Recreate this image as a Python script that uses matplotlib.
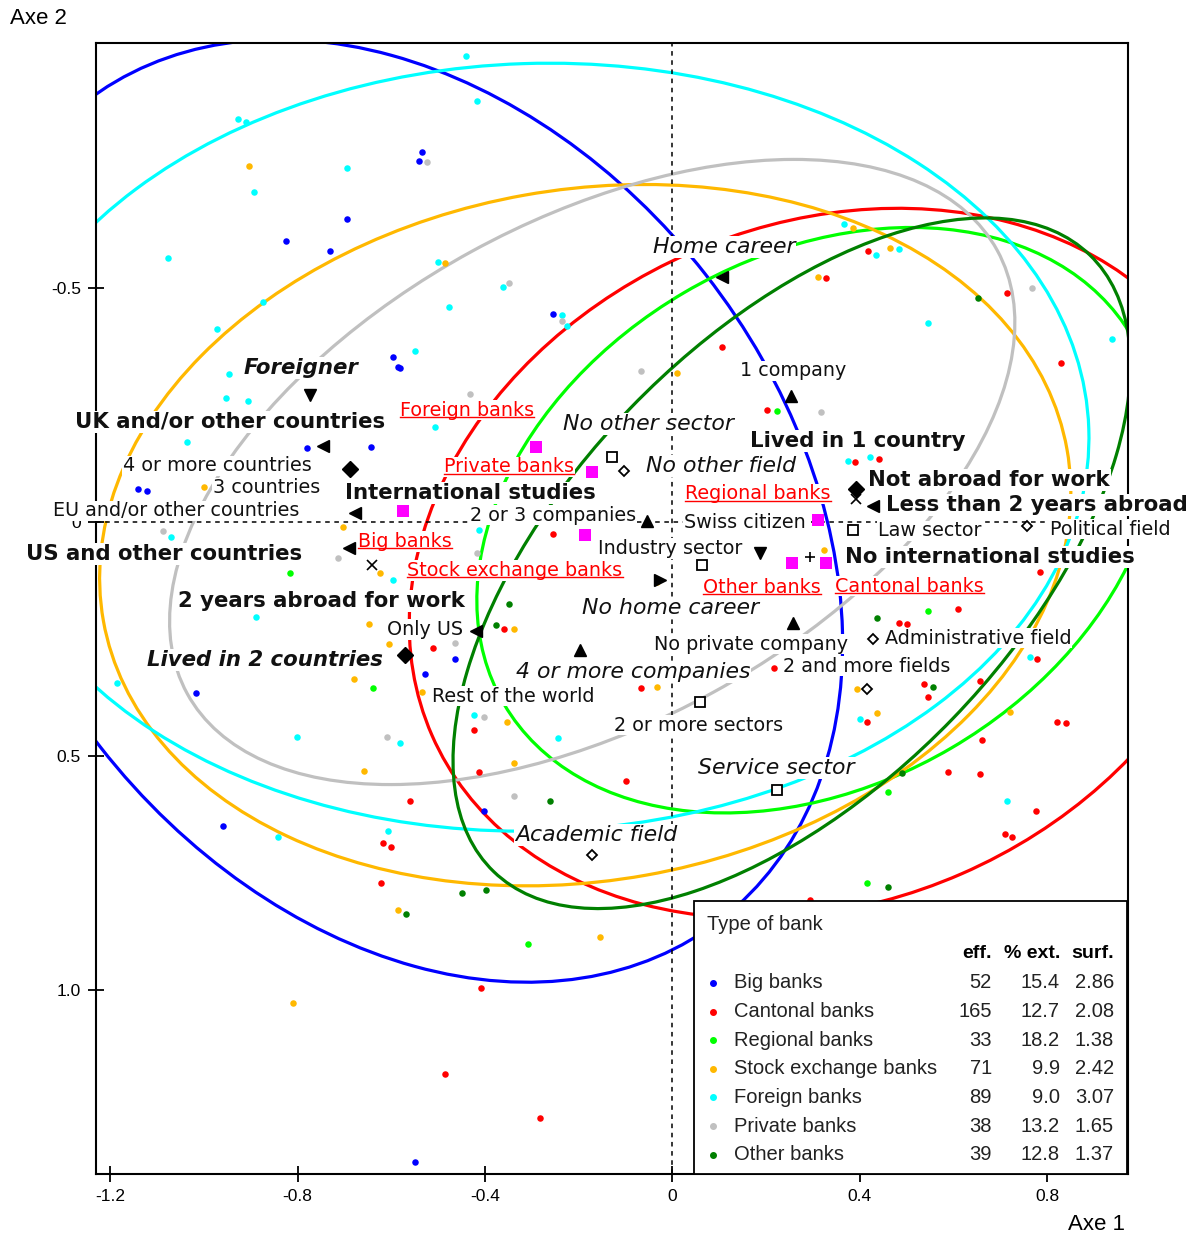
import numpy as np
import matplotlib
matplotlib.use("Agg")
import matplotlib.pyplot as plt
from matplotlib.patches import Ellipse, Rectangle
from matplotlib.lines import Line2D

# ---------------- data ----------------
banks = ["Big banks", "Cantonal banks", "Regional banks", "Stock exchange banks",
         "Foreign banks", "Private banks", "Other banks"]
bank_colors = ["#0000FF", "#FF0000", "#00FF00", "#FFB800", "#00FFFF", "#C0C0C0", "#008000"]
eff = [52, 165, 33, 71, 89, 38, 39]
pct_ext = ["15.4", "12.7", "18.2", "9.9", "9.0", "13.2", "12.8"]
surf = ["2.86", "2.08", "1.38", "2.42", "3.07", "1.65", "1.37"]

# category mean points (Axe 1, Axe 2)
mean_x = [-0.575, 0.328, 0.311, -0.186, -0.291, -0.171, 0.255]
mean_y = [-0.024, 0.088, -0.004, 0.028, -0.160, -0.107, 0.088]
# concentration ellipses
semi_major = [1.106, 0.918, 0.777, 1.045, 1.181, 0.986, 0.916]
semi_minor = [0.820, 0.724, 0.564, 0.738, 0.820, 0.537, 0.478]
angle_deg = [52.0, -23.6, -30.4, -10.1, -1.9, -28.7, -46.0]

# individuals (visible ones)
big_x = [-0.695, -0.825, -0.731, -0.534, -0.541, -0.596, -0.586, -0.780, -0.643, -1.141,
         -1.122, -0.255, -0.581, -1.017, -0.959, -0.464, -0.528, -0.402, -0.549]
big_y = [-0.647, -0.600, -0.579, -0.791, -0.771, -0.353, -0.331, -0.158, -0.160, -0.071,
         -0.066, -0.444, -0.329, 0.365, 0.650, 0.293, 0.325, 0.618, 1.368]
cant_x = [0.418, 0.328, 0.715, 0.106, 0.202, 0.830, 0.390, 0.441, 0.379, -0.255, -0.359,
          -0.511, -0.423, -0.412, -0.099, -0.560, -0.067, 0.217, -0.618, -0.601, -0.622,
          0.610, 0.484, 0.501, 0.779, 0.657, 0.537, 0.546, 0.416, 0.821, 0.841, 0.661,
          0.589, 0.657, 0.777, 0.710, 0.725, 0.294, -0.408, -0.485, -0.283, 0.785]
cant_y = [-0.579, -0.521, -0.489, -0.374, -0.239, -0.340, -0.128, -0.135, 0.011, 0.026, 0.229,
          0.269, 0.444, 0.534, 0.553, 0.596, 0.355, 0.312, 0.686, 0.694, 0.771,
          0.186, 0.216, 0.218, 0.293, 0.340, 0.346, 0.374, 0.427, 0.427, 0.429, 0.466,
          0.534, 0.538, 0.618, 0.667, 0.673, 0.808, 0.996, 1.179, 1.274, 0.107]
reg_x = [0.224, -0.816, -0.639, 0.546, 0.461, 0.416, -0.308]
reg_y = [-0.237, 0.109, 0.355, 0.190, 0.577, 0.771, 0.902]
stock_x = [-0.904, -0.485, 0.386, 0.465, 0.311, -1.000, -0.703, -0.624, 0.324, -0.648,
           -0.604, -0.680, -0.658, -0.338, -0.534, -0.353, -0.338, -0.033, 0.394, 0.437,
           0.721, -0.810, -0.586, -0.154, 0.009, -0.033]
stock_y = [-0.761, -0.553, -0.628, -0.585, -0.524, -0.075, 0.011, 0.109, 0.060, 0.218,
           0.261, 0.335, 0.532, 0.229, 0.363, 0.427, 0.515, 0.353, 0.357, 0.408,
           0.406, 1.028, 0.829, 0.887, -0.318, 0.128]
for_x = [-0.927, -0.910, -0.695, -0.893, -1.077, -0.441, -0.417, -0.500, -0.362, 0.367,
         0.435, 0.484, -0.874, -0.972, -0.947, -0.953, -0.906, -1.036, -1.070, -0.596,
         -0.477, -0.236, -0.225, -0.549, -0.507, -0.413, 0.546, 0.939, 0.375, 0.422,
         -0.889, -1.186, -0.801, -0.581, -0.842, -0.607, -0.423, -0.244, 0.764, 0.401, 0.715]
for_y = [-0.861, -0.855, -0.756, -0.705, -0.564, -0.996, -0.900, -0.556, -0.502, -0.637,
         -0.571, -0.583, -0.470, -0.412, -0.316, -0.265, -0.259, -0.171, 0.032, 0.124,
         -0.459, -0.442, -0.419, -0.365, -0.203, 0.017, -0.425, -0.391, -0.130, -0.139,
         0.203, 0.344, 0.459, 0.472, 0.673, 0.660, 0.412, 0.462, 0.288, 0.421, 0.596]
priv_x = [-0.524, -0.349, 0.768, -1.088, -0.714, -0.236, -0.067, -0.432, -0.417, 0.318,
          -0.609, -0.402, -0.338, -0.464]
priv_y = [-0.769, -0.511, -0.500, 0.019, 0.077, -0.429, -0.323, -0.274, 0.066, -0.235,
          0.459, 0.417, 0.585, 0.259]
oth_x = [0.653, -0.349, -0.376, -0.261, -0.449, -0.398, 0.437, 0.557, 0.490, 0.461, -0.569]
oth_y = [-0.479, 0.175, 0.220, 0.596, 0.793, 0.786, 0.205, 0.353, 0.536, 0.780, 0.838]

ind_x = [big_x, cant_x, reg_x, stock_x, for_x, priv_x, oth_x]
ind_y = [big_y, cant_y, reg_y, stock_y, for_y, priv_y, oth_y]

# modalities of supplementary variables (marker type, Axe 1, Axe 2)
mod_marker = ["v", "<", "D", "<", "<", "x", "D", "<", "^", "s", "D", "^", ">", "s", "v",
              "<", "^", "^", "+", "D", "x", "<", "s", "D", "D", "D", "s", "s", "D"]
mod_filled = [1, 1, 1, 1, 1, 0, 1, 1, 1, 0, 0, 1, 1, 0, 1,
              1, 1, 1, 0, 1, 0, 1, 0, 0, 0, 0, 0, 0, 0]
mod_x = [-0.774, -0.746, -0.688, -0.677, -0.690, -0.641, -0.571, -0.419, -0.197, -0.129,
         -0.103, -0.054, -0.026, 0.063, 0.187, 0.106, 0.253, 0.258, 0.294, 0.392, 0.392,
         0.428, 0.386, 0.757, 0.428, 0.415, 0.059, 0.223, -0.172]
mod_y = [-0.271, -0.162, -0.113, -0.019, 0.056, 0.092, 0.284, 0.233, 0.274, -0.139,
         -0.109, -0.002, 0.124, 0.092, 0.066, -0.524, -0.269, 0.216, 0.075, -0.071, -0.049,
         -0.034, 0.017, 0.009, 0.250, 0.357, 0.385, 0.573, 0.712]

# labels: text, style (n normal, b bold, i italic, bi bold italic)
lab_text = ["Foreigner", "UK and/or other countries", "4 or more countries", "3 countries",
            "EU and/or other countries", "US and other countries", "International studies",
            "2 years abroad for work", "Only US", "Lived in 2 countries", "Rest of the world",
            "4 or more companies", "No home career", "No private company", "2 and more fields",
            "Administrative field", "2 or more sectors", "Service sector", "Academic field",
            "Home career", "1 company", "No other sector", "No other field", "Lived in 1 country",
            "Not abroad for work", "Less than 2 years abroad", "2 or 3 companies", "Swiss citizen",
            "Law sector", "Political field", "Industry sector", "No international studies"]
lab_style = ["bi", "b", "n", "n", "n", "b", "b", "b", "n", "bi", "n", "i", "i", "n", "n",
             "n", "n", "i", "i", "i", "n", "i", "i", "b", "b", "b", "n", "n", "n", "n", "n", "b"]
lab_x = [-0.793, -0.945, -0.972, -0.866, -1.060, -1.085, -0.432, -0.750, -0.528, -0.870,
         -0.340, -0.084, -0.003, 0.168, 0.416, 0.653, 0.055, 0.221, -0.163, 0.110, 0.258,
         -0.050, 0.104, 0.397, 0.676, 0.779, -0.255, 0.155, 0.550, 0.935, -0.005, 0.678]
lab_y = [-0.329, -0.214, -0.120, -0.073, -0.024, 0.068, -0.062, 0.169, 0.229, 0.295,
         0.372, 0.321, 0.184, 0.261, 0.308, 0.248, 0.434, 0.526, 0.669, -0.588, -0.323,
         -0.209, -0.120, -0.173, -0.090, -0.036, -0.015, 0.000, 0.019, 0.015, 0.056, 0.075]
# bank label positions
bank_lab_x = [-0.571, 0.507, 0.183, -0.336, -0.438, -0.349, 0.191]
bank_lab_y = [0.041, 0.137, -0.060, 0.103, -0.239, -0.118, 0.139]

# ---------------- figure ----------------
W, H = 1199, 1236
fig = plt.figure(figsize=(W / 100, H / 100), dpi=100)
ax = fig.add_axes([95.5 / W, 1 - 1174 / H, (1127.5 - 95.5) / W, (1174 - 43.3) / H])
ax.set_xlim(-1.2317, 0.972)
ax.set_ylim(1.393, -1.023)

tick_font = "Liberation Sans"
ax.set_xticks([-1.2, -0.8, -0.4, 0, 0.4, 0.8])
ax.set_xticklabels(["-1.2", "-0.8", "-0.4", "0", "0.4", "0.8"], family=tick_font)
ax.set_yticks([-0.5, 0, 0.5, 1.0])
ax.set_yticklabels(["-0.5", "0", "0.5", "1.0"], family=tick_font)
ax.tick_params(direction="inout", length=11, width=1.3, labelsize=12.5, pad=5, colors="black")
for sp in ax.spines.values():
    sp.set_linewidth(1.5)

ax.axvline(0, color="black", lw=1.1, ls=(0, (3, 3)), zorder=2.4)
ax.axhline(0, color="black", lw=1.1, ls=(0, (3, 3)), zorder=2.4)

for i in range(len(banks)):
    e = Ellipse((mean_x[i], mean_y[i]), 2 * semi_major[i], 2 * semi_minor[i],
                angle=angle_deg[i], fill=False, edgecolor=bank_colors[i], lw=2.3, zorder=2)
    ax.add_patch(e)

for i in range(len(banks)):
    ax.scatter(ind_x[i], ind_y[i], s=22, color=bank_colors[i], linewidths=0, zorder=3)

ax.scatter(mean_x, mean_y, s=70, marker="s", color="#FF00FF", linewidths=0, zorder=4)

for m, f, x, y in zip(mod_marker, mod_filled, mod_x, mod_y):
    if m in ("x", "+"):
        ax.plot(x, y, marker=m, color="black", ms=7, mew=1.2, ls="none", zorder=5)
    elif f:
        ax.plot(x, y, marker=m, color="black", ms=8, ls="none", zorder=5)
    else:
        ms = 5.2 if m == "D" else 6.5
        ax.plot(x, y, marker=m, mfc="white", mec="black", ms=ms, mew=1.3, ls="none", zorder=5)

style_kw = {
    "n": dict(fontsize=13.8, fontweight="normal", fontstyle="normal"),
    "b": dict(fontsize=15.3, fontweight="bold", fontstyle="normal"),
    "i": dict(fontsize=15.8, fontweight="normal", fontstyle="italic"),
    "bi": dict(fontsize=15.3, fontweight="bold", fontstyle="italic"),
}
box = dict(facecolor="white", edgecolor="none", pad=0.6)
for t, s, x, y in zip(lab_text, lab_style, lab_x, lab_y):
    ax.text(x, y, t, ha="center", va="center", family="DejaVu Sans", color="#111111",
            bbox=box, zorder=6, clip_on=False, **style_kw[s])

bank_texts = []
for i in range(len(banks)):
    bt = ax.text(bank_lab_x[i], bank_lab_y[i], banks[i], ha="center", va="center",
                 family="DejaVu Sans", fontsize=13.8, color="#FF0000", bbox=box, zorder=6)
    bank_texts.append(bt)

# axis titles
fig.text(10 / W, 1 - 18 / H, "Axe 2", ha="left", va="center", fontsize=16, family=tick_font)
fig.text(1125 / W, 1 - 1224 / H, "Axe 1", ha="right", va="center", fontsize=16, family=tick_font)

# legend box
def fx(px):
    return px / W

def fy(py):
    return 1 - py / H

leg = Rectangle((fx(694), fy(1174)), fx(1127) - fx(694), fy(901) - fy(1174),
                transform=fig.transFigure, facecolor="white", edgecolor="black", lw=1.3,
                zorder=10, clip_on=False)
ax.add_patch(leg)
ax.text(fx(707), fy(924), "Type of bank", transform=fig.transFigure, ha="left", va="center",
        fontsize=14.5, family=tick_font, color="#222222", zorder=11)
hdr_font = ["Liberation Sans Narrow", "Liberation Sans"]
for txt, xr in zip(["eff.", "% ext.", "surf."], [992, 1060, 1114]):
    ax.text(fx(xr), fy(954), txt, transform=fig.transFigure, ha="right", va="center",
            fontsize=14, fontweight="bold", family=hdr_font, zorder=11)
for i in range(len(banks)):
    yy = fy(983 + 28.6 * i)
    ax.plot([fx(713)], [yy], marker="o", ms=4, color=bank_colors[i], transform=fig.transFigure,
            clip_on=False, zorder=11, ls="none")
    ax.text(fx(734), yy, banks[i], transform=fig.transFigure, ha="left", va="center",
            fontsize=14.5, family=tick_font, color="#222222", zorder=11)
    ax.text(fx(992), yy, str(eff[i]), transform=fig.transFigure, ha="right", va="center",
            fontsize=14.5, family=tick_font, color="#222222", zorder=11)
    ax.text(fx(1060), yy, pct_ext[i], transform=fig.transFigure, ha="right", va="center",
            fontsize=14.5, family=tick_font, color="#222222", zorder=11)
    ax.text(fx(1114), yy, surf[i], transform=fig.transFigure, ha="right", va="center",
            fontsize=14.5, family=tick_font, color="#222222", zorder=11)

# underline bank labels
fig.canvas.draw()
r = fig.canvas.get_renderer()
for bt in bank_texts:
    bb = bt.get_window_extent(r)
    yl = (bb.y0 + 2.5) / H
    fig.add_artist(Line2D([bb.x0 / W, bb.x1 / W], [yl, yl], color="#FF0000", lw=1.0,
                          transform=fig.transFigure, zorder=7))

fig.savefig("out.png", dpi=100)
